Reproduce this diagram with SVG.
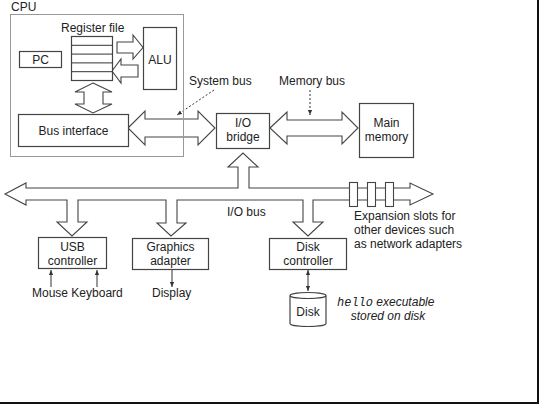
<svg xmlns="http://www.w3.org/2000/svg" width="539" height="404" viewBox="0 0 539 404">
<style>
text{font-family:"Liberation Sans",Arial,sans-serif;font-size:12px;fill:#222}
.c{text-anchor:middle}
.box{fill:#fff;stroke:#444;stroke-width:1.2}
.fat{fill:#fff;stroke:#444;stroke-width:1.1;stroke-linejoin:miter}
.thin{stroke:#333;stroke-width:1;fill:none}
.dash{stroke:#333;stroke-width:1;fill:none;stroke-dasharray:2,2}
</style>
<defs>
<marker id="ah" viewBox="0 0 6 6" refX="6" refY="3" markerWidth="5" markerHeight="5" orient="auto-start-reverse">
<path d="M0,0.5 L6,3 L0,5.5 z" fill="#333"/>
</marker>
</defs>
<rect x="0" y="0" width="539" height="404" fill="#fff"/>

<g id="connectors">
<polygon class="fat" points="128,128 145,111 145,119 198,119 198,111 215,128 198,145 198,137 145,137 145,145"/>
<polygon class="fat" points="270,128 287,112 287,120 342,120 342,112 358,128 342,144 342,136 287,136 287,144"/>
<polygon class="fat" points="93,83 112,92 103,92 103,104 112,104 93,113 75,104 84,104 84,92 75,92"/>
<polygon class="fat" points="117,42 133,42 133,35 143,47.5 133,59 133,53 117,53"/>
<polygon class="fat" points="112,71 121,59 121,65 138,65 138,77 121,77 121,83"/>
<polygon class="fat" points="5,194 26,183 26,188 238,188 238,167 228,167 243,153 258,167 249,167 249,188 410,188 410,183 433,194 410,205 410,200 313,200 313,222 323,222 308,236 293,222 303,222 303,200 177,200 177,223 186,223 171,236 157,223 166,223 166,200 78,200 78,222 87,222 72,236 57,222 67,222 67,200 26,200 26,205"/>
<rect class="fat" x="349.5" y="182.5" width="8" height="24"/>
<rect class="fat" x="367.5" y="182.5" width="8" height="24"/>
<rect class="fat" x="385.5" y="182.5" width="8" height="24"/>
<line class="dash" x1="214" y1="90" x2="177" y2="115" marker-end="url(#ah)"/>
<line class="dash" x1="310" y1="90" x2="310" y2="115" marker-end="url(#ah)"/>
<line class="thin" x1="51" y1="287" x2="51" y2="270" marker-end="url(#ah)"/>
<line class="thin" x1="97" y1="287" x2="97" y2="270" marker-end="url(#ah)"/>
<line class="thin" x1="172" y1="270" x2="172" y2="287" marker-end="url(#ah)"/>
<line class="thin" x1="308" y1="270" x2="308" y2="291" marker-start="url(#ah)" marker-end="url(#ah)"/>
</g>

<g id="cpu">
<rect x="10.5" y="14.5" width="173" height="142" fill="none" stroke="#999" stroke-width="1"/>
<text x="11" y="11">CPU</text>
</g>

<g id="regfile">
<text x="61" y="32">Register file</text>
<rect class="box" x="71.5" y="36.5" width="41" height="44"/>
<line class="thin" x1="71.5" y1="45.3" x2="112.5" y2="45.3"/>
<line class="thin" x1="71.5" y1="54.1" x2="112.5" y2="54.1"/>
<line class="thin" x1="71.5" y1="62.9" x2="112.5" y2="62.9"/>
<line class="thin" x1="71.5" y1="71.7" x2="112.5" y2="71.7"/>
</g>
<g id="pc"><rect class="box" x="19.5" y="51.5" width="42" height="16"/><text class="c" x="40.5" y="63.5">PC</text></g>
<g id="alu"><rect class="box" x="143.5" y="27.5" width="33" height="62"/><text class="c" x="160" y="64">ALU</text></g>
<g id="businterface"><rect class="box" x="18.5" y="114.5" width="110" height="32"/><text class="c" x="73.5" y="135">Bus interface</text></g>
<g id="iobridge"><rect class="box" x="216.5" y="113.5" width="53" height="35"/><text class="c" x="243" y="127">I/O</text><text class="c" x="243" y="141">bridge</text></g>
<g id="mainmemory"><rect class="box" x="359.5" y="103.5" width="54" height="54"/><text class="c" x="386.5" y="127">Main</text><text class="c" x="386.5" y="141">memory</text></g>
<g id="labels">
<text x="189" y="85">System bus</text>
<text x="279" y="85">Memory bus</text>
<text x="227" y="216">I/O bus</text>
<text x="354" y="220">Expansion slots for</text>
<text x="354" y="234">other devices such</text>
<text x="354" y="248">as network adapters</text>
</g>
<g id="usb"><rect class="box" x="38.5" y="237.5" width="68" height="31"/><text class="c" x="72.5" y="251">USB</text><text class="c" x="72.5" y="265">controller</text></g>
<g id="graphics"><rect class="box" x="132.5" y="238.5" width="76" height="31"/><text class="c" x="170.5" y="251">Graphics</text><text class="c" x="170.5" y="265">adapter</text></g>
<g id="diskctrl"><rect class="box" x="269.5" y="238.5" width="77" height="31"/><text class="c" x="308" y="251">Disk</text><text class="c" x="308" y="265">controller</text></g>
<g id="devices">
<text x="32" y="297">Mouse Keyboard</text>
<text x="152" y="297">Display</text>
</g>
<g id="disk">
<path class="box" d="M290,295.5 v28 a18,3 0 0 0 36,0 v-28 a18,3 0 0 0 -36,0 a18,3 0 0 0 36,0"/>
<text class="c" x="308" y="316">Disk</text>
<text x="337" y="306" font-style="italic"><tspan font-family="'Liberation Mono',monospace">hello</tspan> executable</text>
<text class="c" x="388" y="320" font-style="italic">stored on disk</text>
</g>
<rect x="537" y="0" width="2" height="404" fill="#111"/>
<rect x="0" y="402" width="539" height="2" fill="#111"/>
</svg>
